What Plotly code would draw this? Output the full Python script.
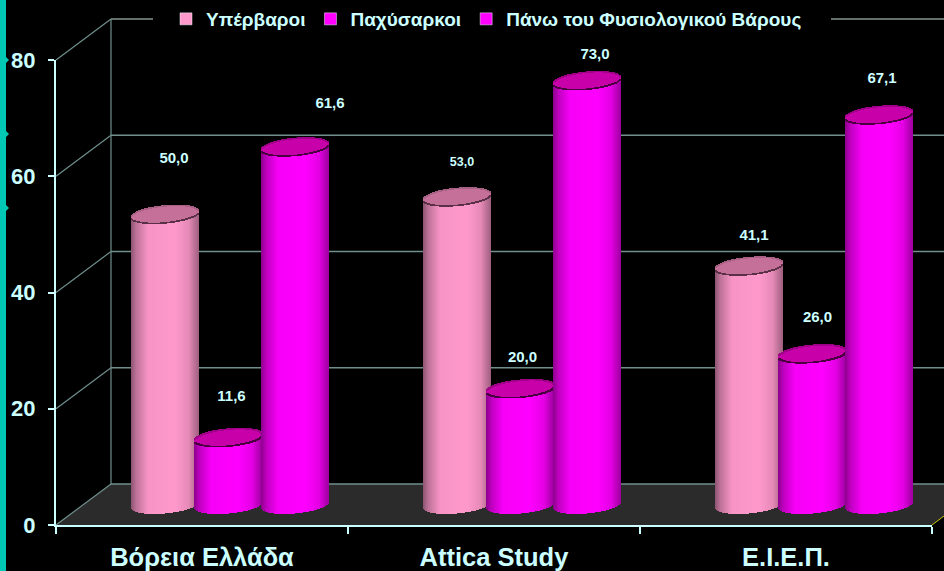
import numpy as np
import plotly.graph_objects as go

categories = ["Βόρεια Ελλάδα", "Attica Study", "Ε.Ι.Ε.Π."]
series_names = ["Υπέρβαροι", "Παχύσαρκοι", "Πάνω του Φυσιολογικού Βάρους"]
overweight = [50.0, 53.0, 41.1]
obese = [11.6, 20.0, 26.0]
above_normal = [61.6, 73.0, 67.1]
y_ticks = [0, 20, 40, 60, 80]

W, H = 944, 571
X0, X1, Y0, Y80 = 56, 932, 525, 60
CAT_PX = (X1 - X0) / 3
UNIT_PX = (Y0 - Y80) / 80
DEPTH_X, DEPTH_Y = 55, 41
TXT = "#CCFFFF"
FONT = "Liberation Sans"
series_styles = [
    dict(col=(255, 153, 204), lid=(196, 112, 152), edge="#5a3046", top="#a86085"),
    dict(col=(255, 0, 255), lid=(200, 0, 170), edge="#4a0040", top="#a00088"),
    dict(col=(255, 0, 255), lid=(200, 0, 170), edge="#4a0040", top="#a00088"),
]
series_dx = [-37, 26.5, 93]
label_offsets = [  # px: (dx from cylinder centre, gap above lid)
    [(9, 55), (3, 40), (35, 43)],
    [(5, 34), (2, 31), (8, 25)],
    [(5, 30), (5, 36), (3, 36)],
]
label_sizes = [[15, 15, 15], [12.5, 15, 15], [15, 15, 15]]


def ux(px):
    return (px - X0) / CAT_PX - 0.5


def uy(py):
    return (Y0 - py) / UNIT_PX


def hexs(c, f=1.0):
    return "rgb(%d,%d,%d)" % tuple(min(255, int(v * f)) for v in c)


fig = go.Figure()

# invisible carrier for the category axis
fig.add_trace(go.Scatter(x=categories, y=[0, 0, 0], xaxis="x", yaxis="y", mode="markers",
                         marker=dict(opacity=0), showlegend=False, hoverinfo="skip"))

R, B, S, N = 34, 8.5, 3.0, 68
CY_BASE = 505
ts = (np.arange(N) + 0.5) / R - 1
curve = B * np.sqrt(1 - ts ** 2)
shade = np.interp(ts, [-1, -0.85, -0.5, 0.3, 0.7, 1], [0.55, 0.74, 0.97, 1, 0.9, 0.62])
values = [overweight, obese, above_normal]

for ci in range(len(categories)):
    for si in range(3):
        v = values[si][ci]
        st = series_styles[si]
        cx = X0 + (ci + 0.5) * CAT_PX + series_dx[si]
        xs = ux(cx - R + np.arange(N) + 0.5)
        width = 1.0 / CAT_PX
        top = CY_BASE - v * UNIT_PX
        tilt = -S * ts
        low_base = CY_BASE + curve + tilt
        lid_low = top + curve + tilt
        lid_up = top - curve + tilt
        # body
        fig.add_trace(go.Bar(x=xs, base=uy(low_base), y=uy(lid_low) - uy(low_base), width=width,
                             xaxis="x2", yaxis="y2", showlegend=False, hoverinfo="skip",
                             marker=dict(color=[hexs(st["col"], f) for f in shade], line=dict(width=0))))
        # lid
        fig.add_trace(go.Bar(x=xs, base=uy(lid_low), y=uy(lid_up) - uy(lid_low), width=width,
                             xaxis="x2", yaxis="y2", showlegend=False, hoverinfo="skip",
                             marker=dict(color=hexs(st["lid"]), line=dict(width=0))))
        # lid outlines
        for crv, col in ((lid_low, st["edge"]), (lid_up, st["top"])):
            prev = np.r_[crv[0], crv[:-1]]
            nxt = np.r_[crv[1:], crv[-1]]
            lo = np.maximum.reduce([crv, prev, nxt]) + 0.2
            hi = np.minimum.reduce([crv, prev, nxt]) - 0.2
            fig.add_trace(go.Bar(x=xs, base=uy(lo), y=uy(hi) - uy(lo), width=width,
                                 xaxis="x2", yaxis="y2", showlegend=False, hoverinfo="skip",
                                 marker=dict(color=col, line=dict(width=0))))

# legend entries
for name, st in zip(series_names, series_styles):
    fig.add_trace(go.Bar(x=[None], y=[None], name=name, xaxis="x2", yaxis="y2",
                         marker=dict(color=hexs(st["col"]))))

# value labels
lx, ly, lt, ls = [], [], [], []
for ci in range(len(categories)):
    for si in range(3):
        v = values[si][ci]
        dx, gap = label_offsets[ci][si]
        cx = X0 + (ci + 0.5) * CAT_PX + series_dx[si] + dx
        lx.append(ux(cx))
        ly.append(uy(CY_BASE - v * UNIT_PX - gap))
        lt.append(("%.1f" % v).replace(".", ","))
        ls.append(label_sizes[ci][si])
fig.add_trace(go.Scatter(x=lx, y=ly, text=lt, mode="text", xaxis="x2", yaxis="y2", showlegend=False,
                         hoverinfo="skip", textposition="middle center",
                         textfont=dict(family=FONT, size=ls, color=TXT, weight=700)))

shapes = []
WALL = "#6F8F8C"
LIGHT = "#C4DEDA"
BX = X0 + DEPTH_X
# floor
fx = [X0, BX, W, W, X1]
fy = [Y0, Y0 - DEPTH_Y, Y0 - DEPTH_Y, Y0 - 9, Y0]
path = "M " + " L ".join(f"{ux(a):.5f} {uy(b):.5f}" for a, b in zip(fx, fy)) + " Z"
shapes.append(dict(type="path", path=path, xref="x2", yref="y2", fillcolor="#2B2B2B",
                   line=dict(width=0), layer="below"))
for t in y_ticks:
    back = t + uy(Y0 - DEPTH_Y)
    shapes.append(dict(type="line", xref="x2", yref="y2", layer="below",
                       x0=ux(X0), y0=t, x1=ux(BX), y1=back, line=dict(color=WALL, width=1.2)))
    if t == 80:  # the top line stops either side of the legend
        spans = [(BX, 153), (831, W)]
        col, wid = LIGHT, 1
    else:
        spans = [(BX, W)]
        col, wid = WALL, 1.5
    for a, b in spans:
        shapes.append(dict(type="line", xref="x2", yref="y2", layer="below",
                           x0=ux(a), y0=back, x1=ux(b), y1=back, line=dict(color=col, width=wid)))
shapes.append(dict(type="line", xref="x2", yref="y2", layer="below",
                   x0=ux(BX), y0=uy(Y0 - DEPTH_Y), x1=ux(BX), y1=80 + uy(Y0 - DEPTH_Y),
                   line=dict(color=WALL, width=1.2)))
shapes.append(dict(type="line", xref="x2", yref="y2", layer="below",
                   x0=ux(X1), y0=0, x1=ux(W), y1=uy(Y0 - 9),
                   line=dict(color="#C8C800", width=1)))
# teal side strip with its small points
TEAL = "#00C8B4"
shapes.append(dict(type="rect", xref="paper", yref="paper", x0=0, x1=6 / W, y0=0, y1=1,
                   fillcolor=TEAL, line=dict(width=0), layer="below"))
for py in (60, 134, 208):
    p = [(3, py - 6), (9, py), (3, py + 6)]
    path = "M " + " L ".join(f"{a / W:.5f} {1 - b / H:.5f}" for a, b in p) + " Z"
    shapes.append(dict(type="path", path=path, xref="paper", yref="paper", fillcolor=TEAL,
                       line=dict(width=0), layer="below"))

axis_font = dict(family=FONT, color=TXT, weight=700)
fig.update_layout(
    width=W, height=H, margin=dict(l=0, r=0, t=0, b=0, autoexpand=False),
    paper_bgcolor="black", plot_bgcolor="rgba(0,0,0,0)",
    barmode="overlay", bargap=0, shapes=shapes,
    xaxis=dict(domain=[X0 / W, X1 / W], type="category", categoryorder="array", categoryarray=categories,
               range=[-0.5, 2.5], tickson="boundaries", ticks="outside", ticklen=7, tickwidth=2,
               tickcolor=TXT, linecolor=TXT, linewidth=2, showgrid=False, zeroline=False,
               tickfont=dict(size=25.5, **axis_font), ticklabelstandoff=8, anchor="y"),
    yaxis=dict(domain=[1 - Y0 / H, 1 - Y80 / H], range=[0, 80], tickvals=y_ticks, ticks="outside",
               ticklen=6, tickwidth=2, tickcolor=TXT, linecolor=TXT, linewidth=2, showgrid=False,
               zeroline=False, tickfont=dict(size=22, **axis_font), ticklabelstandoff=8, anchor="x"),
    xaxis2=dict(domain=[0, 1], range=[ux(0), ux(W)], visible=False, anchor="y2"),
    yaxis2=dict(domain=[0, 1], range=[uy(H), uy(0)], visible=False, anchor="x2"),
    legend=dict(orientation="h", x=166 / W, xanchor="left", y=1, yanchor="top",
                bgcolor="rgba(0,0,0,0)", font=dict(family=FONT, size=19, color=TXT, weight=700),
                itemwidth=30, traceorder="normal", itemclick=False, itemdoubleclick=False),
    showlegend=True,
)
fig.write_html("out.html", config={"displayModeBar": False},
               post_script="document.body.style.margin='0';document.body.style.overflow='hidden';")
